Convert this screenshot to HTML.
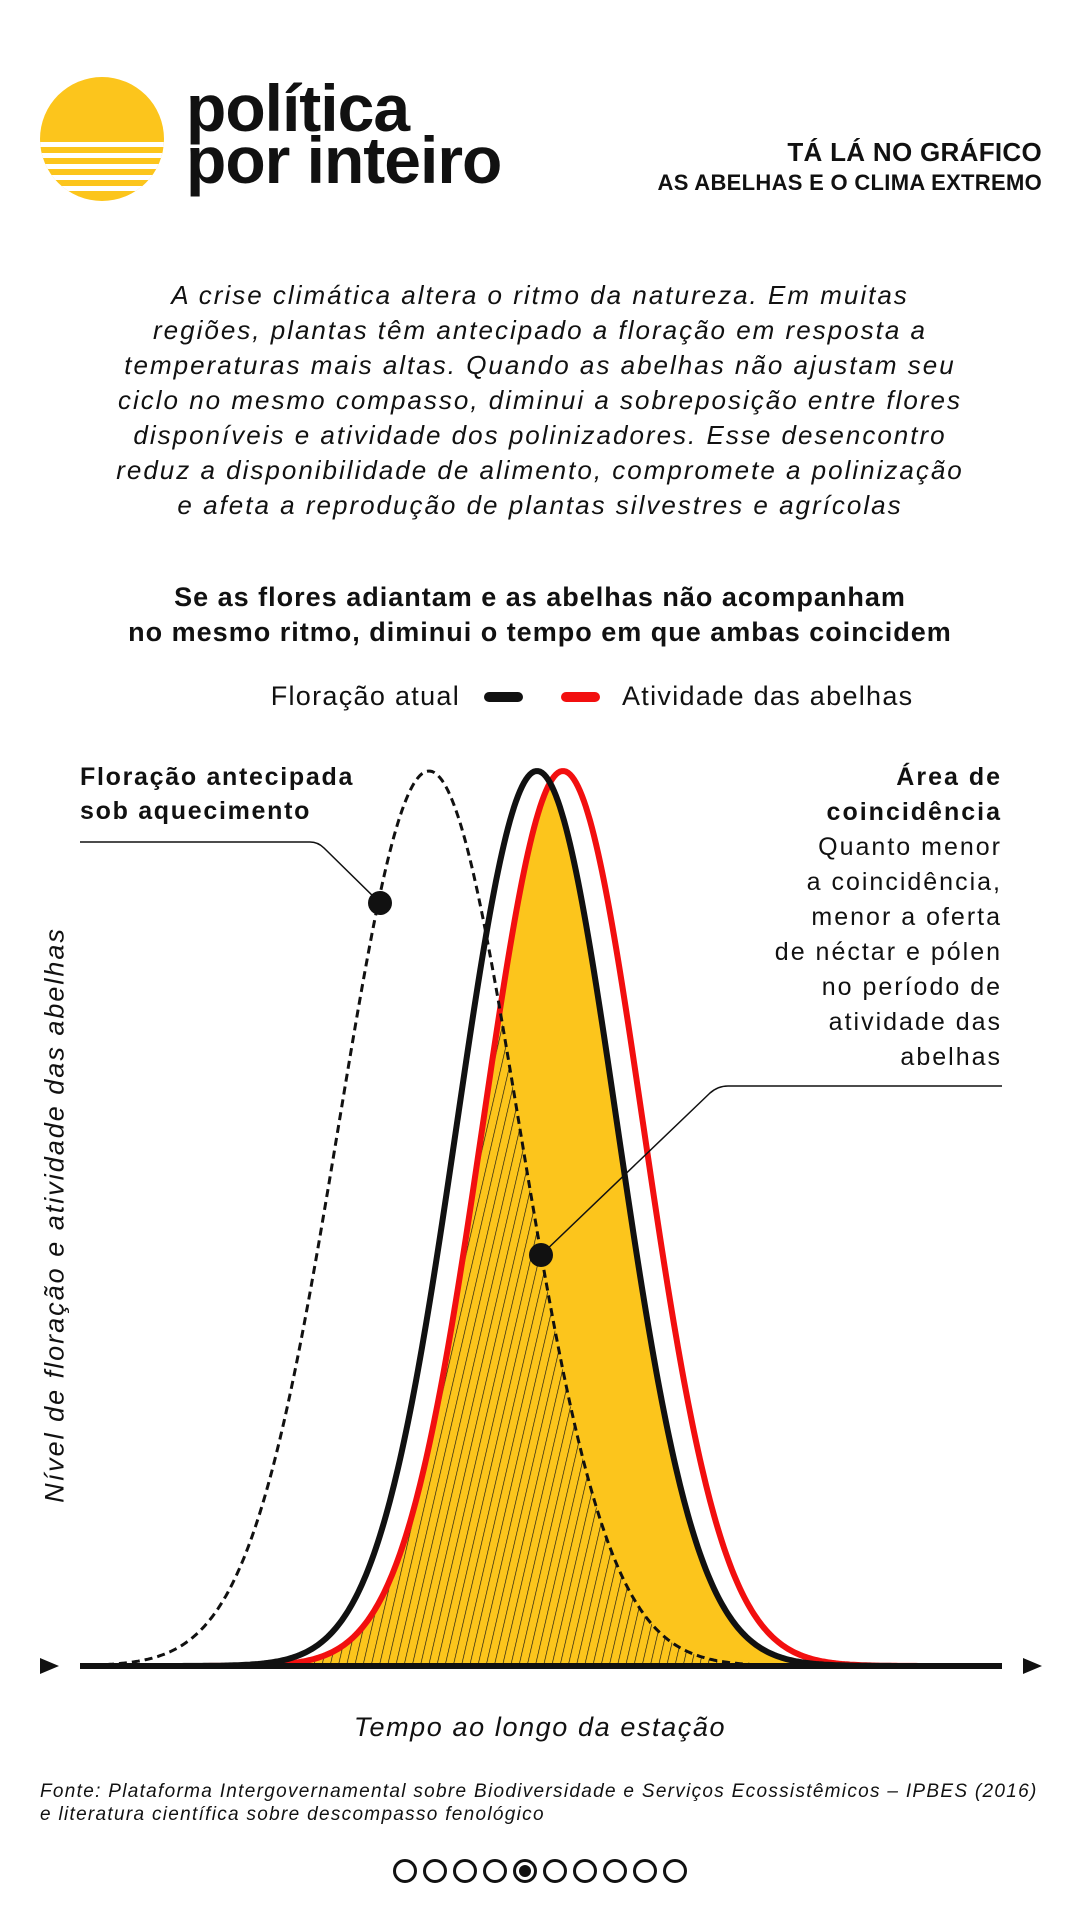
<!DOCTYPE html>
<html><head><meta charset="utf-8"><style>
html,body{margin:0;padding:0;background:#fff}
body{width:1080px;height:1920px;position:relative;overflow:hidden;font-family:"Liberation Sans",sans-serif;color:#111}
.a{position:absolute;white-space:nowrap}
</style></head><body>
<svg class="a" style="left:0;top:0" width="1080" height="1920" id="s" xmlns="http://www.w3.org/2000/svg">
<defs>
<clipPath id="cc"><circle cx="102" cy="139" r="62"/></clipPath>
<pattern id="hatch" width="8" height="8" patternUnits="userSpaceOnUse" patternTransform="rotate(13)">
<line x1="0" y1="0" x2="0" y2="8" stroke="#111" stroke-width="1.3"/>
</pattern>
</defs>
<g clip-path="url(#cc)">
<rect x="40" y="77" width="124" height="124" fill="#FCC51C"/>
<rect x="40" y="142" width="124" height="5" fill="#fff"/>
<rect x="40" y="153" width="124" height="5" fill="#fff"/>
<rect x="40" y="164" width="124" height="5" fill="#fff"/>
<rect x="40" y="175" width="124" height="5" fill="#fff"/>
<rect x="40" y="186" width="124" height="5" fill="#fff"/>
</g>
<g id="chart"></g>
</svg>
<div class="a" style="left:186px;top:82px;font-size:66px;font-weight:bold;letter-spacing:-1px;line-height:52px">política<br>por inteiro</div>
<div class="a" style="right:38px;top:138px;font-size:26px;font-weight:bold;text-align:right;line-height:29px;letter-spacing:0.3px">TÁ LÁ NO GRÁFICO<br><span style="font-size:22px">AS ABELHAS E O CLIMA EXTREMO</span></div>
<div class="a" style="left:0;width:1080px;top:278px;text-align:center;font-size:26px;font-style:italic;line-height:35px;letter-spacing:2px">A crise climática altera o ritmo da natureza. Em muitas<br>regiões, plantas têm antecipado a floração em resposta a<br>temperaturas mais altas. Quando as abelhas não ajustam seu<br>ciclo no mesmo compasso, diminui a sobreposição entre flores<br>disponíveis e atividade dos polinizadores. Esse desencontro<br>reduz a disponibilidade de alimento, compromete a polinização<br>e afeta a reprodução de plantas silvestres e agrícolas</div>
<div class="a" style="left:0;width:1080px;top:580px;text-align:center;font-size:27px;font-weight:bold;line-height:35px;letter-spacing:1px">Se as flores adiantam e as abelhas não acompanham<br>no mesmo ritmo, diminui o tempo em que ambas coincidem</div>
<div class="a" style="right:620px;top:681px;font-size:27px;letter-spacing:1.3px">Floração atual</div>
<div class="a" style="left:622px;top:681px;font-size:27px;letter-spacing:1.3px">Atividade das abelhas</div>
<div class="a" style="left:80px;top:760px;font-size:25px;font-weight:bold;line-height:34px;letter-spacing:1.7px">Floração antecipada<br>sob aquecimento</div>
<div class="a" style="right:78px;top:760px;font-size:25px;line-height:35px;text-align:right;letter-spacing:2px"><b>Área de<br>coincidência</b><br>Quanto menor<br>a coincidência,<br>menor a oferta<br>de néctar e pólen<br>no período de<br>atividade das<br>abelhas</div>
<div class="a" style="left:55px;top:1215px;font-size:27px;font-style:italic;letter-spacing:2px;transform:translate(-50%,-50%) rotate(-90deg)">Nível de floração e atividade das abelhas</div>
<div class="a" style="left:0;width:1080px;top:1712px;text-align:center;font-size:27px;font-style:italic;letter-spacing:1.6px">Tempo ao longo da estação</div>
<div class="a" style="left:40px;top:1780px;font-size:19px;font-style:italic;line-height:23px;letter-spacing:1.3px">Fonte: Plataforma Intergovernamental sobre Biodiversidade e Serviços Ecossistêmicos – IPBES (2016)<br>e literatura científica sobre descompasso fenológico</div>
<script>
(function(){
var g=document.getElementById('chart'),NS='http://www.w3.org/2000/svg';
function el(t,a){var e=document.createElementNS(NS,t);for(var k in a)e.setAttribute(k,a[k]);g.appendChild(e);return e;}
var B=1666,H=895,x0=80,x1=1002;
function f(mu,s){return function(x){return B-H*Math.exp(-(x-mu)*(x-mu)/(2*s*s));};}
var fb=f(537,80),fr=f(563,80),fd=f(429,90);
function path(fn){var d='';for(var x=x0;x<=x1;x+=2)d+=(x==x0?'M':'L')+x+','+fn(x).toFixed(1);return d;}
function area(fn){return path(fn)+'L'+x1+','+B+'L'+x0+','+B+'Z';}
var fy=function(x){return Math.max(fb(x),fr(x));};
var fh=function(x){return Math.max(fb(x),fr(x),fd(x));};
el('path',{d:area(fy),fill:'#FCC51C'});
el('path',{d:area(fh),fill:'url(#hatch)'});
el('path',{d:path(fr),fill:'none',stroke:'#F20F0F','stroke-width':6});
el('path',{d:path(fb),fill:'none',stroke:'#111','stroke-width':6});
el('path',{d:path(fd),fill:'none',stroke:'#111','stroke-width':3,'stroke-dasharray':'8 5'});
el('line',{x1:x0,y1:B,x2:x1,y2:B,stroke:'#111','stroke-width':6});
el('path',{d:'M40,1658L59,1666L40,1674Z',fill:'#111'});
el('path',{d:'M1023,1658L1042,1666L1023,1674Z',fill:'#111'});
el('path',{d:'M80,842L310,842Q318,842 324,848L380,903',fill:'none',stroke:'#111','stroke-width':1.5});
el('path',{d:'M541,1255L710,1093Q718,1086 728,1086L1002,1086',fill:'none',stroke:'#111','stroke-width':1.5});
el('circle',{cx:380,cy:903,r:12,fill:'#111'});
el('circle',{cx:541,cy:1255,r:12,fill:'#111'});
el('line',{x1:489,y1:697,x2:518,y2:697,stroke:'#111','stroke-width':10,'stroke-linecap':'round'});
el('line',{x1:566,y1:697,x2:595,y2:697,stroke:'#F20F0F','stroke-width':10,'stroke-linecap':'round'});
for(var i=0;i<10;i++){var cx=405+i*30;el('circle',{cx:cx,cy:1871,r:10.5,fill:'none',stroke:'#111','stroke-width':3});if(i==4)el('circle',{cx:cx,cy:1871,r:6,fill:'#111'});}
})();
</script>
</body></html>
